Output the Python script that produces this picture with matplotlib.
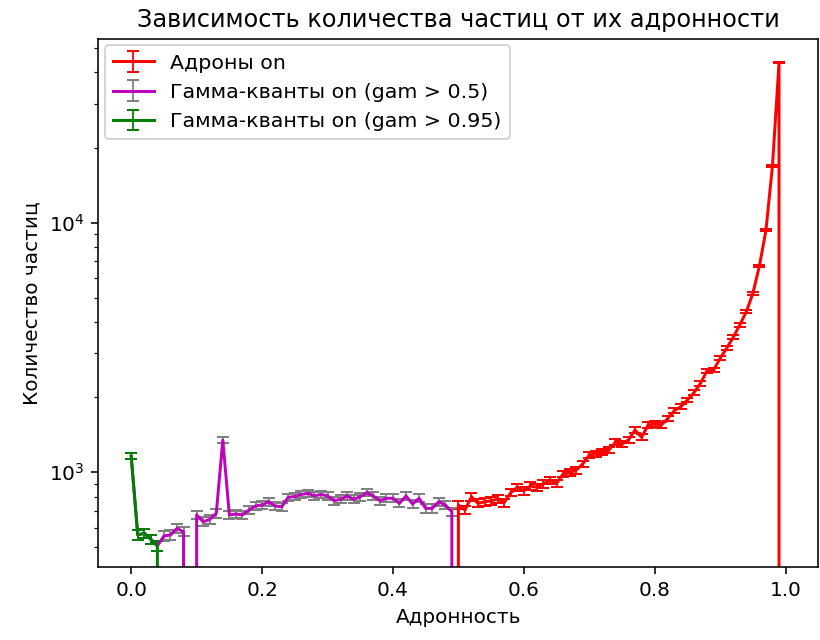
import numpy as np
import matplotlib
matplotlib.use('Agg')
import matplotlib.pyplot as plt

# hadronness bins 0.00 ... 1.00 (step 0.01)
hadronness = np.arange(101) / 100

# particle counts per bin
counts_gam = [1160, 561, 570, 539, 507, 556, 561, 596, 578, 0,
              675, 634, 648, 685, 1346, 675, 681, 675, 706, 733,
              740, 762, 733, 728, 794, 800, 815, 824, 805, 815,
              805, 770, 780, 804, 780, 798, 829, 804, 769, 787,
              787, 751, 804, 747, 787, 717, 717, 762, 740, 695]
counts_had = [740, 706, 798, 751, 762, 769, 782, 756, 829, 871,
              844, 881, 871, 898, 931, 903, 985, 996, 1021, 1080,
              1173, 1184, 1210, 1228, 1320, 1296, 1350, 1477, 1381, 1547,
              1562, 1547, 1644, 1765, 1832, 1949, 2084, 2273, 2552, 2570,
              2864, 3141, 3475, 3892, 4397, 5210, 6710, 9320, 16900, 43700,
              0]
counts = np.array(counts_gam + counts_had, dtype=float)

had = np.where(hadronness >= 0.5, counts, 0)
gam05 = np.where(hadronness < 0.5, counts, 0)
gam095 = np.where(hadronness < 0.05, counts, 0)

plt.rcParams['font.size'] = 10.1
dpi = 143
fig = plt.figure(figsize=(820 / dpi, 640 / dpi), dpi=dpi)
ax = fig.add_axes([0.1201, 0.1145, 0.8778, 0.8241])

ax.errorbar(hadronness, had, yerr=np.sqrt(had), color='r', ecolor='r',
            elinewidth=0.9, capsize=3, label='Адроны on')
ax.errorbar(hadronness, gam05, yerr=np.sqrt(gam05), color='m', ecolor='gray',
            elinewidth=0.9, capsize=3, label='Гамма-кванты on (gam > 0.5)')
ax.errorbar(hadronness, gam095, yerr=np.sqrt(gam095), color='g', ecolor='g',
            elinewidth=0.9, capsize=3, label='Гамма-кванты on (gam > 0.95)')

ax.set_yscale('log')
ax.set_xlim(-0.05, 1.05)
ax.set_ylim(418.6, 54300)
ax.set_title('Зависимость количества частиц от их адронности')
ax.set_xlabel('Адронность')
ax.set_ylabel('Количество частиц')
ax.legend(loc='upper left', borderaxespad=0.3, fontsize=10.3)

fig.savefig('out.png', dpi=dpi)
